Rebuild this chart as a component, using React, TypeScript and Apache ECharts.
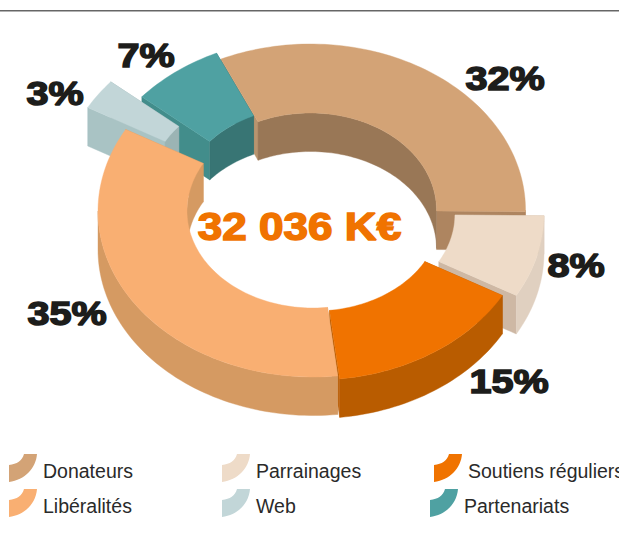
import React, { useEffect, useRef } from "react";
import * as echarts from "echarts";

const categories = ["Donateurs", "Parrainages", "Soutiens réguliers", "Libéralités", "Web", "Partenariats"];
const shares = [32, 8, 15, 35, 3, 7];
const totalLabel = "32 036 K€";

const topColors = ["#d3a376", "#eedbc8", "#f07300", "#f9af72", "#c2d6d8", "#4fa1a2"];
const outerWall = ["#b8906a", "#e0d0c0", "#b95c00", "#d59a62", "#a9c3c4", "#428d8b"];
const innerWall = ["#997756", "#e0d0c0", "#b95c00", "#d59a62", "#9bb4b4", "#387574"];
const startCap = ["#b8946f", "#ceb8a4", "#b95c00", "#d59a62", "#a9c3c4", "#428d8b"];
const endCap = ["#ae8560", "#ceb8a4", "#b95c00", "#d59a62", "#9bb4b4", "#387574"];
const explode = [[0.5, 0], [19, 4], [5, 4], [3, 1], [-35, -21], [-4, -6]];
const paintOrder = [0, 5, 4, 1, 2, 3];

const labelPos = [[505, 79], [576, 266], [509, 382], [67, 314], [55, 94], [146, 56]];
const legendPos = [[9, 454], [222, 454], [434, 454], [9, 489], [222, 489], [430, 489]];
const legendTextX = [43, 256, 468, 43, 256, 464];

const CX = 310, CY = 210, RX = 215, RY = 166, IRX = 126, IRY = 97, DEPTH = 38.5, START = -24.6;

const swatch = "M28 0C27 14 16 26 0 28L0 11C8 10 13 7 15 0Z";
echarts.graphic.registerShape("legendSwatch", echarts.graphic.extendPath(swatch, {}) as any);

function pt(a: number, rx: number, ry: number, d: number[], z = 0) {
  const r = (a * Math.PI) / 180;
  return [CX + d[0] + rx * Math.sin(r), CY + d[1] - ry * Math.cos(r) + z];
}
function arc(a0: number, a1: number, rx: number, ry: number, d: number[], z = 0) {
  const out: number[][] = [];
  const n = Math.max(2, Math.ceil(Math.abs(a1 - a0) / 1.5));
  for (let i = 0; i <= n; i++) out.push(pt(a0 + ((a1 - a0) * i) / n, rx, ry, d, z));
  return out;
}

export default function App() {
  const ref = useRef<HTMLDivElement>(null);
  useEffect(() => {
    const chart = echarts.init(ref.current!, undefined, { renderer: "svg" });
    const sum = shares.reduce((a, b) => a + b, 0);
    const starts: number[] = [];
    let acc = START;
    shares.forEach((v) => { starts.push(acc); acc += (v / sum) * 360; });

    const poly = (points: number[][], fill: string) => ({
      type: "polygon", shape: { points }, style: { fill, stroke: fill, lineWidth: 0.4 },
    });

    const renderItem = (params: any, api: any) => {
      const i = api.value(0);
      const v = api.value(1);
      const a0 = starts[i];
      const a1 = a0 + (v / sum) * 360;
      const d = explode[i];
      const children: any[] = [];
      const wall = (s: number, e: number) => {
        if (e > s) children.push(poly([...arc(s, e, IRX, IRY, d), ...arc(e, s, IRX, IRY, d, DEPTH)], innerWall[i]));
      };
      children.push(poly([pt(a1, RX, RY, d), pt(a1, IRX, IRY, d), pt(a1, IRX, IRY, d, DEPTH), pt(a1, RX, RY, d, DEPTH)], endCap[i]));
      children.push(poly([pt(a0, RX, RY, d), pt(a0, IRX, IRY, d), pt(a0, IRX, IRY, d, DEPTH), pt(a0, RX, RY, d, DEPTH)], startCap[i]));
      wall(Math.max(a0, -90), Math.min(a1, 90));
      wall(Math.max(a0, 270), Math.min(a1, 450));
      const os = Math.max(a0, 90), oe = Math.min(a1, 270);
      if (oe > os) children.push(poly([...arc(os, oe, RX, RY, d), ...arc(oe, os, RX, RY, d, DEPTH)], outerWall[i]));
      children.push(poly([...arc(a0, a1, RX, RY, d), ...arc(a1, a0, IRX, IRY, d)], topColors[i]));
      return { type: "group", children };
    };

    const pctLabels = shares.map((v, i) => ({
      type: "text", x: labelPos[i][0], y: labelPos[i][1], scaleX: 1.2, z: 10,
      style: {
        text: `${v}%`, fill: "#1d1d1b", stroke: "#1d1d1b", lineWidth: 1.5,
        font: "900 33px 'Liberation Sans', Arial, sans-serif", align: "center", verticalAlign: "middle",
      },
    }));
    const legendItems = categories.flatMap((c, i) => [
      { type: "legendSwatch", x: legendPos[i][0], y: legendPos[i][1], style: { fill: topColors[i] } },
      {
        type: "text", x: legendTextX[i], y: legendPos[i][1] + 17,
        style: { text: c, fill: "#2a2a2a", font: "19.5px 'Liberation Sans', Arial, sans-serif", align: "left", verticalAlign: "middle" },
      },
    ]);

    chart.setOption({
      animation: false,
      series: [{
        type: "custom",
        coordinateSystem: "none",
        renderItem,
        silent: true,
        encode: { value: 1 },
        data: paintOrder.map((i) => ({ name: categories[i], value: [i, shares[i]] })),
      }],
      graphic: [
        { type: "rect", shape: { x: 0, y: 10, width: 619, height: 1.6 }, style: { fill: "#666666" } },
        {
          type: "text", x: 299.5, y: 227, scaleX: 1.16, z: 10,
          style: {
            text: totalLabel, fill: "#f07300", stroke: "#f07300", lineWidth: 1.5,
            font: "900 38px 'Liberation Sans', Arial, sans-serif", align: "center", verticalAlign: "middle",
          },
        },
        ...pctLabels,
        ...legendItems,
      ],
    });
    return () => chart.dispose();
  }, []);
  return <div ref={ref} style={{ position: "fixed", left: 0, top: 0, width: 619, height: 541, background: "#fff" }} />;
}
